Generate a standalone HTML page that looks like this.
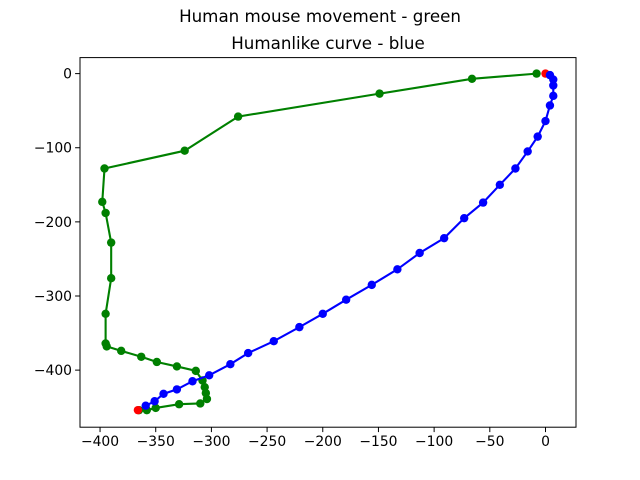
<!DOCTYPE html>
<html><head><meta charset="utf-8"><style>
body{margin:0;background:#fff;}
svg{display:block;font-family:"DejaVu Sans","Liberation Sans",sans-serif;}
</style></head><body>
<svg id="chart" width="640" height="480" xmlns="http://www.w3.org/2000/svg">
<text x="320" y="22" text-anchor="middle" font-size="16.7">Human mouse movement - green</text>
<text x="328" y="49" text-anchor="middle" font-size="16.7">Humanlike curve - blue</text>
<g id="plot"></g>
<rect x="80" y="57.6" width="496" height="369.6" fill="none" stroke="#000" stroke-width="1"/>
</svg>
<script>
const greenX=[-8,-66,-149,-276,-324,-396,-398,-395,-390,-390,-395,-395,-394,-381,-363,-349,-331,-314,-308,-306,-305,-304,-310,-329,-350,-358,-365];
const greenY=[0,-7,-27,-58,-104,-128,-173,-188,-228,-276,-324,-364,-368,-374,-382,-389,-395,-401,-414,-423,-431,-439,-445,-446,-451,-454,-454];
const blueX=[4,7,7,7,4,0,-7,-16,-27,-41,-56,-73,-91,-113,-133,-156,-179,-200,-221,-244,-267,-283,-302,-317,-331,-343,-351,-359];
const blueY=[-2,-8,-16,-30,-43,-64,-85,-105,-128,-150,-174,-195,-222,-242,-264,-285,-305,-324,-342,-361,-377,-392,-407,-415,-426,-432,-442,-448];
const redX=[0,-366];
const redY=[0,-454];
const xTicks=[-400,-350,-300,-250,-200,-150,-100,-50,0];
const yTicks=[0,-100,-200,-300,-400];
const L=80,R=576,T=57.6,B=427.2,xmin=-418,xmax=27.4,ymin=-477,ymax=21.6;
const sx=v=>L+(v-xmin)/(xmax-xmin)*(R-L);
const sy=v=>B-(v-ymin)/(ymax-ymin)*(B-T);
const NS="http://www.w3.org/2000/svg";
const g=document.getElementById('plot');
function mk(t,a){const e=document.createElementNS(NS,t);for(const k in a)e.setAttribute(k,a[k]);g.appendChild(e);return e;}
xTicks.forEach(v=>{
  const t=mk('line',{x1:sx(v),x2:sx(v),y1:B,y2:B+4.9,stroke:'#000'});
  
  
  const l=mk('text',{x:sx(v),y:B+19,'text-anchor':'middle','font-size':'13.9'});
  l.textContent=v===0?'0':'\u2212'+Math.abs(v);
  
  
});
yTicks.forEach(v=>{
  const t=mk('line',{x1:L-4.9,x2:L,y1:sy(v),y2:sy(v),stroke:'#000'});
  
  
  const l=mk('text',{x:L-8,y:sy(v)+5,'text-anchor':'end','font-size':'13.9'});
  l.textContent=v===0?'0':'\u2212'+Math.abs(v);
  
  
});
function series(xs,ys,col,name){
  const pl=mk('polyline',{points:xs.map((x,i)=>sx(x)+','+sy(ys[i])).join(' '),fill:'none',stroke:col,'stroke-width':2.1});
  
  
  xs.forEach((x,i)=>{
    const c=mk('circle',{cx:sx(x),cy:sy(ys[i]),r:4.2,fill:col});
    
    
  });
}
series(greenX,greenY,'#008000','green-series');
redX.forEach((x,i)=>{
  const c=mk('circle',{cx:sx(x),cy:sy(redY[i]),r:4.2,fill:'#ff0000'});
  
  
});
series(blueX,blueY,'#0000ff','blue-series');
</script>
</body></html>
